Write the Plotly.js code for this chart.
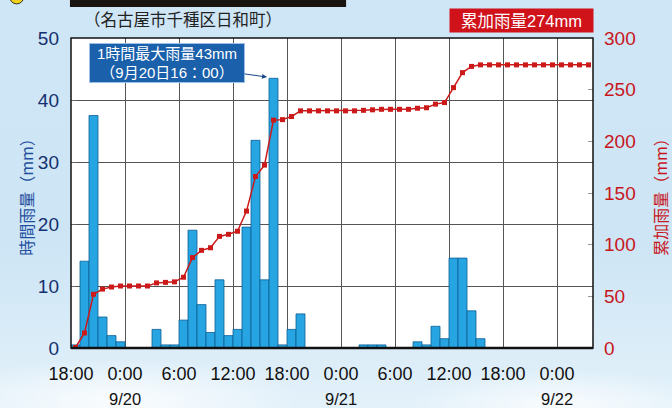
<!DOCTYPE html>
<html>
<head>
<meta charset="utf-8">
<script src="https://cdn.plot.ly/plotly-3.0.1.min.js"></script>
<style>
html,body{margin:0;padding:0;}
body{width:672px;height:408px;overflow:hidden;
background:
 radial-gradient(ellipse 260px 60px at 120px 400px, rgba(255,255,255,0.85), rgba(255,255,255,0) 70%),
 radial-gradient(ellipse 220px 50px at 560px 405px, rgba(255,255,255,0.8), rgba(255,255,255,0) 70%),
 linear-gradient(180deg,#cfe6f6 0%,#cde5f5 60%,#e3f1fa 100%);}
#chart{width:672px;height:408px;}
</style>
</head>
<body>
<div id="chart"></div>
<script>
// hourly periods (period start)
const times = [
 '2011-09-19 18:00','2011-09-19 19:00','2011-09-19 20:00','2011-09-19 21:00','2011-09-19 22:00','2011-09-19 23:00',
 '2011-09-20 00:00','2011-09-20 01:00','2011-09-20 02:00','2011-09-20 03:00','2011-09-20 04:00','2011-09-20 05:00',
 '2011-09-20 06:00','2011-09-20 07:00','2011-09-20 08:00','2011-09-20 09:00','2011-09-20 10:00','2011-09-20 11:00',
 '2011-09-20 12:00','2011-09-20 13:00','2011-09-20 14:00','2011-09-20 15:00','2011-09-20 16:00','2011-09-20 17:00',
 '2011-09-20 18:00','2011-09-20 19:00','2011-09-20 20:00','2011-09-20 21:00','2011-09-20 22:00','2011-09-20 23:00',
 '2011-09-21 00:00','2011-09-21 01:00','2011-09-21 02:00','2011-09-21 03:00','2011-09-21 04:00','2011-09-21 05:00',
 '2011-09-21 06:00','2011-09-21 07:00','2011-09-21 08:00','2011-09-21 09:00','2011-09-21 10:00','2011-09-21 11:00',
 '2011-09-21 12:00','2011-09-21 13:00','2011-09-21 14:00','2011-09-21 15:00','2011-09-21 16:00','2011-09-21 17:00',
 '2011-09-21 18:00','2011-09-21 19:00','2011-09-21 20:00','2011-09-21 21:00','2011-09-21 22:00','2011-09-21 23:00',
 '2011-09-22 00:00','2011-09-22 01:00','2011-09-22 02:00','2011-09-22 03:00'
];
// hourly rainfall (mm)
const hourlyRain = [
 0.5,14,37.5,5,2,1,
 0,0,0,3,0.5,0.5,
 4.5,19,7,2.5,11,2,
 3,19.5,33.5,11,43.5,0.5,
 3,5.5,0,0,0,0,
 0,0,0.5,0.5,0.5,0,
 0,0,1,0.5,3.5,1.5,
 14.5,14.5,6,1.5,0,0,
 0,0,0,0,0,0,
 0,0,0,0
];
// cumulative rainfall (mm)
const cumulativeRain = [
 0.5,14.5,52,57,59,60,
 60,60,60,63,63.5,64,
 68.5,87.5,94.5,97,108,110,
 113,132.5,166,177,220.5,221,
 224,229.5,229.5,229.5,229.5,229.5,
 229.5,229.5,230,230.5,231,231,
 231,231,232,232.5,236,237.5,
 252,266.5,272.5,274,274,274,
 274,274,274,274,274,274,
 274,274,274,274
];
const tickVals = ['2011-09-19 18:00','2011-09-20 00:00','2011-09-20 06:00','2011-09-20 12:00','2011-09-20 18:00',
 '2011-09-21 00:00','2011-09-21 06:00','2011-09-21 12:00','2011-09-21 18:00','2011-09-22 00:00'];
const tickText = ['18:00','0:00','6:00','12:00','18:00','0:00','6:00','12:00','18:00','0:00'];
const dateVals = ['2011-09-20 00:00','2011-09-21 00:00','2011-09-22 00:00'];
const dateText = ['9/20','9/21','9/22'];
const subtitle = '（名古屋市千種区日和町）';
const totalLabel = '累加雨量274mm';
const maxLabel = '1時間最大雨量43mm<br>（9月20日16：00）';
const maxTime = '2011-09-20 15:47';
const maxValue = 43.7;

const JP = '"Liberation Sans", Arial, "Noto Sans CJK JP", sans-serif';
const TICK = '"Liberation Sans", Arial, sans-serif';

const traces = [
 {type:'bar', x:times, y:hourlyRain, xperiod:3600000, xperiodalignment:'middle', width:3600000,
  marker:{color:'#27a4e2', line:{color:'#0e5f95', width:0.8}}, hoverinfo:'x+y', showlegend:false},
 {type:'scatter', mode:'lines+markers', x:times, y:cumulativeRain, yaxis:'y2', xperiod:3600000, xperiodalignment:'middle',
  line:{color:'#cc1a1a', width:1.5}, marker:{symbol:'square', size:5, color:'#cc1a1a'}, showlegend:false}
];

const annotations = [
 {xref:'paper', yref:'paper', x:0.021, y:1.06, xanchor:'left', yanchor:'middle', showarrow:false,
  text:subtitle, font:{family:'"Noto Sans CJK JP", sans-serif', size:16.5, color:'#222'}},
 {xref:'paper', yref:'paper', x:0.863, y:1.056, xanchor:'center', yanchor:'middle', showarrow:false,
  text:totalLabel, bgcolor:'#d0121b', width:139, height:19, borderpad:2,
  font:{family:JP, size:16.5, color:'#ffffff'}},
 {xref:'x', yref:'y', x:maxTime, y:maxValue, ax:-100, ay:-14, showarrow:true, arrowhead:2, arrowsize:1, arrowwidth:1,
  arrowcolor:'#1a4a8a', text:maxLabel, bgcolor:'#1a60aa', bordercolor:'#9cc0e6', borderwidth:1, borderpad:2,
  width:150, height:34, align:'center', font:{family:JP, size:15, color:'#ffffff'}}
];
dateVals.forEach((d, i) => annotations.push({xref:'x', yref:'paper', x:d, y:-0.1645, xanchor:'center', yanchor:'middle',
  showarrow:false, text:dateText[i], font:{family:TICK, size:16.5, color:'#111111'}}));

const layout = {
 width:672, height:408, autosize:false,
 margin:{l:71, r:79, t:38, b:60},
 paper_bgcolor:'rgba(0,0,0,0)', plot_bgcolor:'#ffffff',
 bargap:0,
 font:{family:JP},
 xaxis:{type:'date', range:['2011-09-19 18:00','2011-09-22 04:00'], tickmode:'array', tickvals:tickVals, ticktext:tickText,
  showgrid:true, gridcolor:'#555555', gridwidth:1, ticks:'', zeroline:false,
  tickfont:{family:TICK, size:18, color:'#111111'}, ticklabelstandoff:13, fixedrange:true},
 yaxis:{range:[0,50], dtick:10, showgrid:true, gridcolor:'#555555', gridwidth:1, zeroline:false,
  ticks:'inside', ticklen:5, tickcolor:'#666', ticklabelstandoff:11, tickfont:{family:TICK, size:19, color:'#14306e'},
  title:{text:'時間雨量（mm）', font:{family:'"Noto Sans CJK JP", sans-serif', size:16, color:'#1f4f9e'}, standoff:0}},
 yaxis2:{range:[0,300], dtick:50, overlaying:'y', side:'right', showgrid:false, zeroline:false,
  ticks:'inside', ticklen:5, tickcolor:'#999', ticklabelstandoff:10, tickfont:{family:TICK, size:19, color:'#c8161d'},
  title:{text:'累加雨量（mm）', font:{family:'"Noto Sans CJK JP", sans-serif', size:16, color:'#c8161d'}, standoff:21}},
 shapes:[
  {type:'rect', xref:'paper', yref:'paper', x0:-0.002, x1:0.527, y0:1.1, y1:1.14, fillcolor:'#1a1410', line:{width:0}},
  {type:'circle', xref:'paper', yref:'paper', x0:-0.118, x1:-0.09, y0:1.11, y1:1.16, fillcolor:'#f1d21a', line:{color:'#333', width:1}},
  {type:'rect', xref:'paper', yref:'paper', x0:0, x1:1, y0:0, y1:1, line:{color:'#111', width:1.5}},
  {type:'line', xref:'paper', yref:'paper', x0:0, x1:1, y0:0, y1:0, line:{color:'#111', width:2.5}}
 ],
 annotations:annotations
};
Plotly.newPlot('chart', traces, layout, {displayModeBar:false, staticPlot:true});
</script>
</body>
</html>
